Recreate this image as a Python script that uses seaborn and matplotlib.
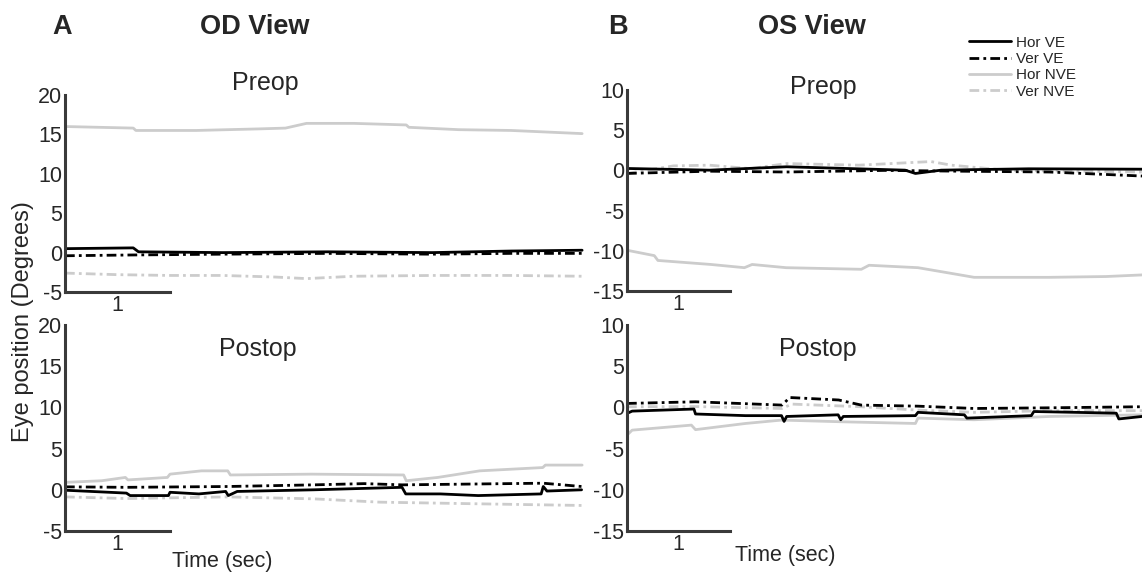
import pandas as pd
import seaborn as sns
import matplotlib.pyplot as plt

# ---------------------------------------------- data (deg vs sec) ----------------------------------------------
# OD view, preop
od_pre_hor_ve_t = [0, 1.3, 1.4, 3.0, 5.0, 7.0, 8.5, 9.85]
od_pre_hor_ve = [0.5, 0.6, 0.1, 0.0, 0.1, 0.0, 0.2, 0.3]
od_pre_ver_ve_t = [0, 1.3, 3.0, 5.0, 7.0, 8.5, 9.85]
od_pre_ver_ve = [-0.4, -0.3, -0.2, -0.1, -0.2, -0.1, -0.1]
od_pre_hor_nve_t = [0, 1.3, 1.35, 2.5, 3.7, 4.2, 4.6, 5.5, 6.5, 6.55, 7.5, 8.5, 9.85]
od_pre_hor_nve = [16.0, 15.8, 15.5, 15.5, 15.7, 15.8, 16.4, 16.4, 16.2, 15.9, 15.6, 15.5, 15.1]
od_pre_ver_nve_t = [0, 1.0, 2.0, 3.0, 4.0, 4.6, 5.5, 7.0, 8.5, 9.85]
od_pre_ver_nve = [-2.6, -2.8, -2.9, -2.9, -3.1, -3.3, -3.0, -2.9, -2.9, -3.0]

# OD view, postop
od_post_hor_ve_t = [0, 1.17, 1.24, 1.97, 2.0, 2.55, 3.06, 3.11, 3.28, 4.74, 6.42, 6.49, 7.15, 7.87, 9.07, 9.11, 9.18, 9.84]
od_post_hor_ve = [-0.05, -0.4, -0.7, -0.7, -0.3, -0.5, -0.2, -0.7, -0.2, 0.0, 0.3, -0.5, -0.5, -0.7, -0.5, 0.4, -0.15, 0.0]
od_post_ver_ve_t = [0, 1.17, 3.1, 4.74, 5.7, 6.42, 9.11, 9.84]
od_post_ver_ve = [0.36, 0.3, 0.4, 0.6, 0.75, 0.6, 0.8, 0.4]
od_post_hor_nve_t = [0, 0.7, 1.15, 1.2, 1.95, 2.0, 2.6, 3.1, 3.15, 4.7, 6.45, 6.5, 7.1, 7.9, 9.1, 9.15, 9.85]
od_post_hor_nve = [0.9, 1.1, 1.5, 1.2, 1.5, 1.9, 2.3, 2.3, 1.8, 1.9, 1.8, 1.1, 1.5, 2.3, 2.7, 3.0, 3.0]
od_post_ver_nve_t = [0, 1.17, 3.1, 4.74, 6.0, 7.87, 9.84]
od_post_ver_nve = [-0.86, -1.06, -0.86, -1.1, -1.5, -1.7, -1.9]

# OS view, preop
os_pre_hor_ve_t = [0, 1.6, 3.1, 5.4, 5.6, 6.1, 7.8, 10.0]
os_pre_hor_ve = [0.24, 0.03, 0.45, 0.03, -0.38, 0.03, 0.2, 0.15]
os_pre_ver_ve_t = [0, 1.6, 3.1, 5.0, 6.5, 8.2, 10.0]
os_pre_ver_ve = [-0.38, -0.1, -0.2, 0.0, -0.1, -0.2, -0.7]
os_pre_hor_nve_t = [0, 0.53, 0.6, 1.63, 2.28, 2.43, 3.09, 4.55, 4.7, 5.65, 6.38, 6.74, 8.2, 9.3, 10.0]
os_pre_hor_nve = [-9.93, -10.6, -11.2, -11.7, -12.1, -11.7, -12.1, -12.3, -11.8, -12.1, -12.9, -13.3, -13.3, -13.2, -13.0]
os_pre_ver_nve_t = [0, 0.9, 1.6, 2.4, 3.1, 4.5, 5.9, 6.3, 7.4, 10.0]
os_pre_ver_nve = [-0.38, 0.56, 0.65, 0.22, 0.85, 0.65, 1.1, 0.65, 0.0, -0.2]

# OS view, postop
os_post_hor_ve_t = [0, 0.1, 1.3, 1.33, 2.3, 3.0, 3.05, 3.1, 4.1, 4.15, 4.2, 5.6, 5.65, 6.55, 6.6, 7.85, 7.9, 9.5, 9.55, 10.0]
os_post_hor_ve = [-0.73, -0.45, -0.2, -0.8, -1.0, -1.0, -1.7, -1.1, -0.9, -1.5, -1.1, -1.0, -0.6, -0.9, -1.3, -1.0, -0.5, -0.7, -1.4, -1.1]
os_post_ver_ve_t = [0, 1.33, 3.01, 3.16, 4.11, 4.55, 5.65, 6.74, 8.2, 10.0]
os_post_ver_ve = [0.48, 0.68, 0.28, 1.2, 0.9, 0.28, 0.15, -0.13, -0.05, 0.08]
os_post_hor_nve_t = [0, 0.1, 1.25, 1.33, 2.3, 3.0, 4.2, 5.6, 5.65, 6.74, 8.2, 10.0]
os_post_hor_nve = [-3.37, -2.76, -2.15, -2.7, -1.95, -1.54, -1.75, -1.95, -1.3, -1.5, -1.1, -0.9]
os_post_ver_nve_t = [0, 1.33, 3.01, 3.2, 4.55, 5.65, 6.74, 8.2, 10.0]
os_post_ver_nve = [0.08, 0.1, -0.13, 0.4, 0.08, -0.33, -0.6, -0.4, -0.4]

series_names = ['Hor VE', 'Ver VE', 'Hor NVE', 'Ver NVE']
panel_titles = ['Preop', 'Postop']

# ---------------------------------------------- styling ----------------------------------------------
sns.set_style('white')
plt.rcParams['font.family'] = ['Liberation Sans', 'DejaVu Sans']
TXT = '#262626'
GRAY = '#cccccc'
DASHDOT = (0, (3.5, 1.5, 1, 1.5))
line_styles = {
    'Hor VE': dict(color='black', linestyle='-', linewidth=2.0),
    'Ver VE': dict(color='black', linestyle=DASHDOT, linewidth=2.0),
    'Hor NVE': dict(color=GRAY, linestyle='-', linewidth=2.0),
    'Ver NVE': dict(color=GRAY, linestyle=DASHDOT, linewidth=2.0),
}

W, H = 1146, 576
fig = plt.figure(figsize=(W / 100, H / 100), dpi=100)


def px_axes(left, top, right, bottom):
    return fig.add_axes([left / W, 1 - bottom / H, (right - left) / W, (bottom - top) / H])


def fig_text(x, y, s, **kw):
    fig.text(x / W, 1 - y / H, s, color=TXT, **kw)


def draw_panel(ax, traces, ylim, yticks):
    # traces: list of (t, values) in order Hor VE, Ver VE, Hor NVE, Ver NVE ; gray drawn first
    for name, (t, v) in reversed(list(zip(series_names, traces))):
        df = pd.DataFrame({'t': t, 'deg': v})
        sns.lineplot(data=df, x='t', y='deg', ax=ax, estimator=None, sort=False,
                     label=name, legend=False, **line_styles[name])
    ax.set_xlim(0, 10)
    ax.set_ylim(*ylim)
    ax.set_yticks(yticks)
    ax.set_yticklabels([str(y) for y in yticks])
    ax.set_xticks([1])
    ax.set_xticklabels(['1'])
    ax.tick_params(axis='y', direction='in', length=6, width=1.8, colors=TXT, labelsize=15.5, pad=2)
    ax.tick_params(axis='x', length=0, colors=TXT, labelsize=15.5, pad=2)
    for s in ['top', 'right']:
        ax.spines[s].set_visible(False)
    for s in ['left', 'bottom']:
        ax.spines[s].set_linewidth(2.2)
        ax.spines[s].set_color('#3a3a3a')
    ax.spines['bottom'].set_bounds(0, 2)
    ax.set_xlabel('')
    ax.set_ylabel('')
    ax.patch.set_alpha(0)


ax_od_pre = px_axes(65, 95, 590, 292)
ax_od_post = px_axes(65, 325, 590, 531)
ax_os_pre = px_axes(627, 90, 1142, 291)
ax_os_post = px_axes(627, 325, 1142, 531)

draw_panel(ax_od_pre, [(od_pre_hor_ve_t, od_pre_hor_ve), (od_pre_ver_ve_t, od_pre_ver_ve),
                       (od_pre_hor_nve_t, od_pre_hor_nve), (od_pre_ver_nve_t, od_pre_ver_nve)],
           (-5, 20), [-5, 0, 5, 10, 15, 20])
draw_panel(ax_od_post, [(od_post_hor_ve_t, od_post_hor_ve), (od_post_ver_ve_t, od_post_ver_ve),
                        (od_post_hor_nve_t, od_post_hor_nve), (od_post_ver_nve_t, od_post_ver_nve)],
           (-5, 20), [-5, 0, 5, 10, 15, 20])
draw_panel(ax_os_pre, [(os_pre_hor_ve_t, os_pre_hor_ve), (os_pre_ver_ve_t, os_pre_ver_ve),
                       (os_pre_hor_nve_t, os_pre_hor_nve), (os_pre_ver_nve_t, os_pre_ver_nve)],
           (-15, 10), [-15, -10, -5, 0, 5, 10])
draw_panel(ax_os_post, [(os_post_hor_ve_t, os_post_hor_ve), (os_post_ver_ve_t, os_post_ver_ve),
                        (os_post_hor_nve_t, os_post_hor_nve), (os_post_ver_nve_t, os_post_ver_nve)],
           (-15, 10), [-15, -10, -5, 0, 5, 10])

# panel headings and sub titles
fig_text(62, 27, 'A', fontsize=19.5, fontweight='bold', ha='center', va='center')
fig_text(255, 27, 'OD View', fontsize=19.5, fontweight='bold', ha='center', va='center')
fig_text(618, 27, 'B', fontsize=19.5, fontweight='bold', ha='center', va='center')
fig_text(812, 27, 'OS View', fontsize=19.5, fontweight='bold', ha='center', va='center')
fig_text(265, 90, panel_titles[0], fontsize=18, ha='center', va='baseline')
fig_text(823, 94, panel_titles[0], fontsize=18, ha='center', va='baseline')
fig_text(258, 356, panel_titles[1], fontsize=18, ha='center', va='baseline')
fig_text(818, 356, panel_titles[1], fontsize=18, ha='center', va='baseline')

fig_text(23, 322, 'Eye position (Degrees)', fontsize=17, rotation=90, ha='center', va='center')
fig_text(222, 562, 'Time (sec)', fontsize=15.5, ha='center', va='center')
fig_text(785, 556, 'Time (sec)', fontsize=15.5, ha='center', va='center')

# legend (upper right)
handles, labels = ax_os_pre.get_legend_handles_labels()
order = [labels.index(n) for n in series_names]
fig.legend([handles[i] for i in order], series_names, loc='upper left',
           bbox_to_anchor=(958 / W, 1 - 25 / H), frameon=False, fontsize=11,
           handlelength=2.8, handletextpad=0.3, labelspacing=0.15, borderpad=0.2,
           labelcolor=TXT)

plt.savefig('out.png', dpi=100)
